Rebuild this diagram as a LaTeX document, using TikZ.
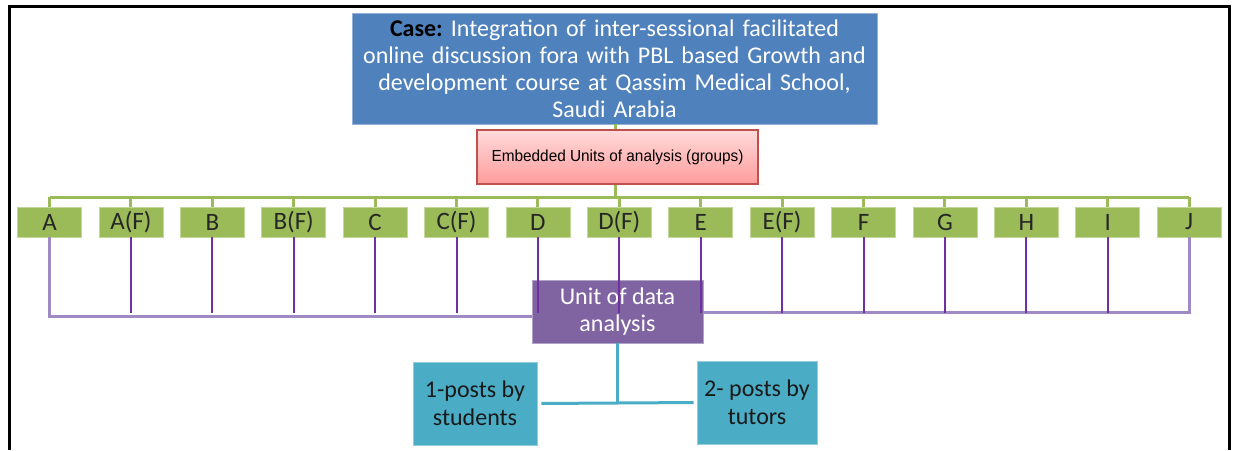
\documentclass[tikz,border=0pt]{standalone}
\usepackage{fontspec}
\setmainfont{Carlito}
\newfontfamily\narrowsans{Liberation Sans}[FakeStretch=0.96]
\usepackage{xcolor}
\usepackage{tikz}
\usetikzlibrary{positioning, shapes, arrows}

\definecolor{caseblue}{HTML}{4F81BD}
\definecolor{leafgreen}{HTML}{9BBB59}
\definecolor{unitpurple}{HTML}{8064A2}
\definecolor{tickpurple}{HTML}{7030A0}
\definecolor{bracketpurple}{HTML}{9F8AC4}
\definecolor{postcyan}{HTML}{4BACC6}
\definecolor{pinktop}{HTML}{FFDADA}
\definecolor{pinkbot}{HTML}{FF9C9C}
\definecolor{pinkedge}{HTML}{C0504D}

\tikzset{
  casebox/.style={fill=caseblue, draw=caseblue!60!white, line width=0.4pt, minimum width=262.5pt, minimum height=55.5pt, inner sep=0pt, text width=255pt, align=center, font=\fontsize{12}{13.5}\selectfont, text=white},
  groupbox/.style={top color=pinktop, bottom color=pinkbot, draw=pinkedge, line width=0.6pt, minimum width=140.5pt, minimum height=27pt, inner sep=0pt, font=\narrowsans\fontsize{8}{9}\selectfont},
  leafbox/.style={fill=leafgreen, draw=leafgreen!60!white, line width=0.4pt, minimum width=32pt, minimum height=15pt, inner sep=0pt, font=\fontsize{12.5}{13}\selectfont, text=black!85},
  unitbox/.style={fill=unitpurple, draw=unitpurple!60!white, line width=0.4pt, minimum width=85.5pt, minimum height=31.5pt, inner sep=0pt, align=center, font=\fontsize{12}{13.5}\selectfont, text=white},
  postbox/.style={fill=postcyan, draw=postcyan!60!white, line width=0.4pt, minimum height=41.5pt, inner sep=0pt, align=center, font=\fontsize{12}{14}\selectfont, text=black!90},
  greenline/.style={draw=leafgreen, line width=1.5pt},
  bracket/.style={draw=bracketpurple, line width=1.5pt},
  tick/.style={draw=tickpurple, line width=1pt},
  cyanline/.style={draw=postcyan, line width=1.5pt}
}

\begin{document}
\begin{tikzpicture}[x=0.5pt, y=-0.5pt]
  \useasboundingbox (0,0) rectangle (1235,450);
  \draw[line width=1.5pt] (9,450) -- (9,6) -- (1229,6) -- (1229,450);

  \node[casebox] (case) at (614.5,68.5) {\textcolor{black}{\textbf{Case:}}\ Integration of inter-sessional facilitated\\online discussion fora with PBL based Growth and\\development course at Qassim Medical School,\\Saudi Arabia};

  \coordinate (gbar) at (615,197);
  \draw[greenline] (case.south -| gbar) -- (gbar);
  \node[groupbox] (groups) at (617.5,157) {Embedded Units of analysis (groups)};

  \foreach \lbl [count=\i] in {A, A(F), B, B(F), C, C(F), D, D(F), E, E(F), F, G, H, I, J} {
    \node[leafbox] (g\i) at ({49.5+81.4*(\i-1)},222) {\lbl};
    \draw[greenline] (gbar -| g\i.north) -- (g\i.north);
  }
  \draw[greenline] (gbar -| g1.north) -- (gbar -| g15.north);

  \node[unitbox] (unit) at (617.5,311.5) {Unit of data\\analysis};
  \coordinate (pL) at (0,316);
  \coordinate (pR) at (0,312);
  \draw[bracket] (g1.south) -- (g1.south |- pL) -- (pL -| unit.west);
  \draw[bracket] (g15.south) -- (g15.south |- pR) -- (pR -| unit.east);
  \coordinate (tickend) at (0,313);
  \foreach \i in {2,...,14}
    \draw[tick] (g\i.south) -- (g\i.south |- tickend);

  \node[postbox, minimum width=62pt] (students) at (475,403.5) {1-posts by\\students};
  \node[postbox, minimum width=60pt] (tutors) at (757,402.5) {2- posts by\\tutors};
  \draw[cyanline] (unit.south) -- (unit.south |- students.east);
  \draw[cyanline, shorten <=2pt, shorten >=1.5pt] (students.east) -- (tutors.west);
\end{tikzpicture}
\end{document}
